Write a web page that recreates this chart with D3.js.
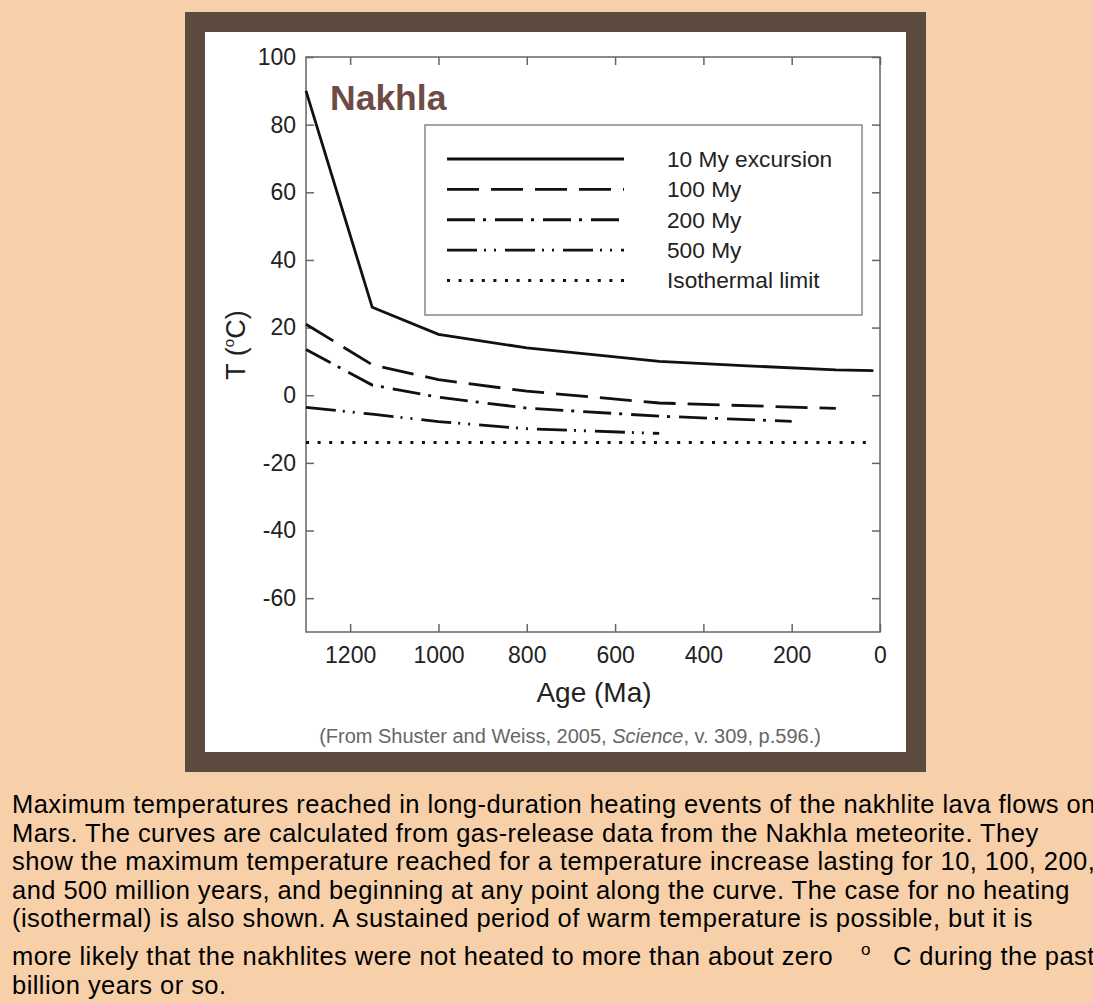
<!DOCTYPE html>
<html>
<head>
<meta charset="utf-8">
<script src="https://cdn.jsdelivr.net/npm/d3@7"></script>
<style>
  html, body { margin: 0; padding: 0; background: #f7d0aa; overflow: hidden; }
  svg { display: block; }
</style>
</head>
<body>
<svg id="chart" width="1093" height="1003"></svg>
<script>
// data (age in Ma, temperature in degrees C)
const ages10 = [1300, 1150, 1000, 800, 500, 300, 100, 15];
const temps10 = [90, 26, 18, 14, 10, 8.7, 7.5, 7.3];
const ages100 = [1300, 1150, 1000, 800, 500, 100];
const temps100 = [21, 9, 4.6, 1.2, -2.3, -3.9];
const ages200 = [1300, 1150, 1000, 800, 500, 200];
const temps200 = [13.5, 3, -0.6, -3.8, -6.2, -7.7];
const ages500 = [1300, 1150, 1000, 800, 500];
const temps500 = [-3.6, -5.6, -7.8, -9.9, -11.3];
const agesIso = [1300, 15];
const tempsIso = [-14, -14];

const seriesNames = ['10 My excursion', '100 My', '200 My', '500 My', 'Isothermal limit'];
const xTicks = [1200, 1000, 800, 600, 400, 200, 0];
const yTicks = [100, 80, 60, 40, 20, 0, -20, -40, -60];

const captionLines = [
    'Maximum temperatures reached in long-duration heating events of the nakhlite lava flows on',
    'Mars. The curves are calculated from gas-release data from the Nakhla meteorite. They',
    'show the maximum temperature reached for a temperature increase lasting for 10, 100, 200,',
    'and 500 million years, and beginning at any point along the curve. The case for no heating',
    '(isothermal) is also shown. A sustained period of warm temperature is possible, but it is',
    'more likely that the nakhlites were not heated to more than about zero',
    'billion years or so.'
];

const dashes = [null, '32,12', '28,8,3,9', '30,7,2,8,2,9', '3,8.6'];
const series = [
    [ages10, temps10], [ages100, temps100], [ages200, temps200], [ages500, temps500], [agesIso, tempsIso]
].map(([a, t], i) => ({name: seriesNames[i], dash: dashes[i], pts: a.map((x, j) => [x, t[j]])}));

const FONT = '"Liberation Sans", Arial, sans-serif';
const svg = d3.select('#chart');

// brown frame and white panel
svg.append('rect').attr('x', 185).attr('y', 12).attr('width', 741).attr('height', 760).attr('fill', '#5d4a3e');
svg.append('rect').attr('x', 205).attr('y', 32).attr('width', 701).attr('height', 720).attr('fill', '#ffffff');

const plot = {left: 306, right: 880, top: 57, bottom: 632};
const x = d3.scaleLinear().domain([1300, 0]).range([plot.left, plot.right]);
const y = d3.scaleLinear().domain([-70, 100]).range([plot.bottom, plot.top]);

const plain = d => String(d);
const axisStyle = (g) => {
    g.select('.domain').remove();
    g.selectAll('.tick line').attr('stroke', '#666').attr('stroke-width', 1.5);
    g.selectAll('.tick text')
        .attr('fill', '#222')
        .style('font-family', FONT)
        .style('font-size', '23px');
};

svg.append('g').attr('transform', `translate(0, ${plot.bottom})`)
    .call(d3.axisBottom(x).tickValues(xTicks).tickFormat(plain).tickSizeInner(-8).tickSizeOuter(0).tickPadding(15))
    .call(axisStyle);
svg.append('g').attr('transform', `translate(0, ${plot.top})`)
    .call(d3.axisTop(x).tickValues(xTicks).tickSizeInner(-8).tickSizeOuter(0).tickFormat(''))
    .call(axisStyle);
svg.append('g').attr('transform', `translate(${plot.left}, 0)`)
    .call(d3.axisLeft(y).tickValues(yTicks).tickFormat(plain).tickSizeInner(-8).tickSizeOuter(0).tickPadding(10))
    .call(axisStyle);
svg.append('g').attr('transform', `translate(${plot.right}, 0)`)
    .call(d3.axisRight(y).tickValues(yTicks).tickSizeInner(-8).tickSizeOuter(0).tickFormat(''))
    .call(axisStyle);

svg.append('rect')
    .attr('x', plot.left).attr('y', plot.top)
    .attr('width', plot.right - plot.left).attr('height', plot.bottom - plot.top)
    .attr('fill', 'none').attr('stroke', '#666').attr('stroke-width', 1.5);

// curves
const line = d3.line().x(d => x(d[0])).y(d => y(d[1]));
svg.append('g').selectAll('path')
    .data(series)
    .join('path')
    .attr('d', d => line(d.pts))
    .attr('fill', 'none')
    .attr('stroke', '#111')
    .attr('stroke-width', d => d.dash === dashes[4] ? 3 : 2.8)
    .attr('stroke-dasharray', d => d.dash);

// title
svg.append('text').attr('x', 330).attr('y', 110)
    .text('Nakhla')
    .attr('fill', '#6e4c46')
    .style('font-family', FONT)
    .style('font-weight', 'bold')
    .style('font-size', '35.5px');

// legend
const legend = svg.append('g');
legend.append('rect').attr('x', 425).attr('y', 125).attr('width', 437).attr('height', 190)
    .attr('fill', '#fff').attr('stroke', '#888').attr('stroke-width', 1.5);
const rowY = d3.scalePoint().domain(seriesNames).range([159, 280.5]);
const rows = legend.selectAll('g.row').data(series).join('g').attr('class', 'row')
    .attr('transform', d => `translate(0, ${rowY(d.name)})`);
rows.append('line').attr('x1', 447).attr('x2', 624)
    .attr('stroke', '#111').attr('stroke-width', d => d.dash === dashes[4] ? 3 : 2.8)
    .attr('stroke-dasharray', d => d.dash);
rows.append('text').attr('x', 667).attr('dy', '0.35em')
    .text(d => d.name)
    .attr('fill', '#222')
    .style('font-family', FONT)
    .style('font-size', '22.7px');

// axis titles
svg.append('text').attr('x', 594).attr('y', 702).attr('text-anchor', 'middle')
    .text('Age (Ma)')
    .attr('fill', '#222')
    .style('font-family', FONT)
    .style('font-size', '28px');

const yl = svg.append('text').attr('transform', 'translate(245, 345) rotate(-90)')
    .attr('text-anchor', 'middle')
    .attr('fill', '#222')
    .style('font-family', FONT)
    .style('font-size', '27px');
yl.append('tspan').text('T (');
yl.append('tspan').text('o').attr('dy', -11).style('font-size', '15px');
yl.append('tspan').text('C)').attr('dy', 11);

const src = svg.append('text').attr('x', 570).attr('y', 743).attr('text-anchor', 'middle')
    .attr('fill', '#666')
    .style('font-family', FONT)
    .style('font-size', '20px');
src.append('tspan').text('(From Shuster and Weiss, 2005, ');
src.append('tspan').text('Science').style('font-style', 'italic');
src.append('tspan').text(', v. 309, p.596.)');

// caption
const capY = [813, 842, 870, 899, 927, 965, 994];
const cap = svg.append('g')
    .style('font-family', FONT)
    .style('font-size', '25.5px')
    .style('letter-spacing', '0.45px')
    .attr('fill', '#000');
captionLines.forEach((t, i) => {
    const tx = cap.append('text').attr('x', 12).attr('y', capY[i]);
    tx.append('tspan').text(t);
    if (i === 5) {
        tx.append('tspan').text('o').attr('dx', 28).attr('dy', -10).style('font-size', '17px');
        tx.append('tspan').text('C during the past').attr('dx', 22).attr('dy', 10);
    }
});
</script>
</body>
</html>
